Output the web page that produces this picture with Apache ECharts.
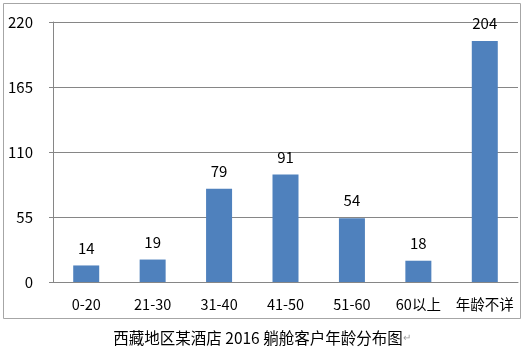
<!DOCTYPE html>
<html>
<head>
<meta charset="utf-8">
<script src="https://cdn.jsdelivr.net/npm/echarts@6/dist/echarts.min.js"></script>
<style>
  html, body { margin: 0; padding: 0; background: #fff; }
  #chart { width: 524px; height: 354px; }
</style>
</head>
<body>
<div id="chart"></div>
<script>
const categories = ['0-20', '21-30', '31-40', '41-50', '51-60', '60以上', '年龄不详']
const counts = [14, 19, 79, 91, 54, 18, 204]
const yTicks = [0, 55, 110, 165, 220]

const font = '"Noto Sans CJK SC", "Noto Sans", sans-serif'
const gray = '#868686'

const chart = echarts.init(document.getElementById('chart'))
chart.setOption({
  animation: false,
  textStyle: { fontFamily: font },
  graphic: [
    { type: 'rect', shape: { x: 3.5, y: 3.5, width: 517, height: 315 }, style: { fill: 'none', stroke: '#a6a6a6', lineWidth: 1 } },
    {
      type: 'text', left: 'center', top: 330,
      style: {
        text: '西藏地区某酒店 2016 躺舱客户年龄分布图{r|↵}',
        fontFamily: font, fontSize: 15.5, fill: '#000',
        rich: { r: { fontSize: 10, fill: '#999' } }
      }
    }
  ],
  grid: { left: 53, right: 6, top: 22, bottom: 72 },
  xAxis: {
    type: 'category', data: categories,
    axisLine: { lineStyle: { color: gray } },
    axisTick: { length: 5, lineStyle: { color: gray } },
    axisLabel: { color: '#000', fontSize: 14.5, margin: 15, interval: 0 }
  },
  yAxis: {
    type: 'value', min: yTicks[0], max: yTicks[yTicks.length - 1], interval: 55,
    axisLine: { show: true, lineStyle: { color: gray } },
    axisTick: { show: true, length: 4, lineStyle: { color: gray } },
    axisLabel: { color: '#000', fontSize: 15, margin: 20 },
    splitLine: { lineStyle: { color: gray } }
  },
  series: [{
    type: 'bar', data: counts, barWidth: 26,
    itemStyle: { color: '#4f81bd' },
    label: { show: true, position: 'top', distance: 10, color: '#000', fontSize: 15 }
  }]
})
</script>
</body>
</html>
